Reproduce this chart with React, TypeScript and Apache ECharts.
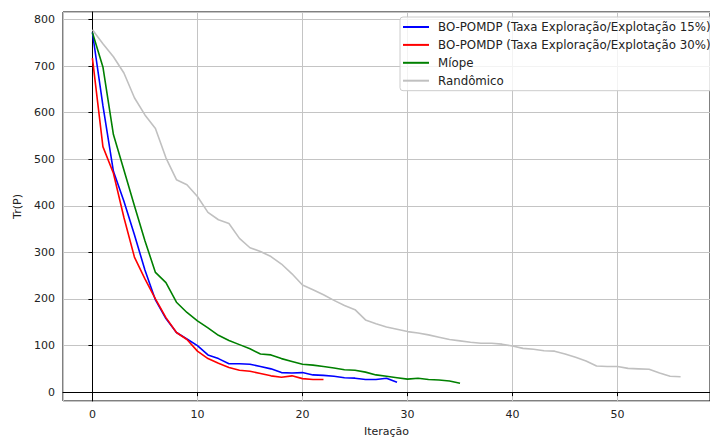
import React, { useEffect, useRef } from "react";
import * as echarts from "echarts";

const seriesNames = [
  "BO-POMDP (Taxa Exploração/Explotação 15%)",
  "BO-POMDP (Taxa Exploração/Explotação 30%)",
  "Míope",
  "Randômico",
];

const bo15 = [772, 615, 474, 410, 338, 262, 198, 158, 128, 114, 100, 80, 72, 61, 61, 60, 55, 50, 42, 41, 42, 37, 36, 34, 31, 30, 27, 27, 30, 21];
const bo30 = [717, 527, 470, 375, 290, 243, 200, 160, 128, 113, 88, 72, 62, 53, 47, 45, 40, 35, 32, 35, 29, 27, 27];
const miope = [772, 698, 553, 477, 400, 325, 257, 235, 193, 171, 153, 138, 122, 111, 102, 93, 82, 80, 72, 66, 60, 58, 55, 52, 48, 47, 43, 37, 34, 31, 28, 30, 27, 26, 24, 19];
const randomico = [778, 748, 720, 685, 632, 595, 566, 503, 456, 445, 420, 386, 370, 362, 330, 310, 302, 291, 275, 254, 230, 220, 209, 197, 186, 177, 155, 147, 140, 135, 130, 127, 123, 118, 113, 110, 107, 105, 105, 103, 99, 94, 92, 89, 88, 82, 75, 67, 56, 55, 55, 51, 50, 49, 41, 34, 33];

const colors = ["#0000ff", "#ff0000", "#008000", "#c0c0c0"];
const allSeries = [bo15, bo30, miope, randomico];

const FONT = "DejaVu Sans";
const TXT = "#222";

export default function App() {
  const ref = useRef<HTMLDivElement>(null);
  useEffect(() => {
    if (!ref.current) return;
    const chart = echarts.init(ref.current, undefined, { renderer: "svg" });
    chart.setOption({
      animation: false,
      textStyle: { fontFamily: FONT },
      grid: {
        left: 63,
        top: 12,
        width: 657,
        height: 391,
        show: true,
        borderColor: "#000",
        borderWidth: 1,
        backgroundColor: "transparent",
      },
      legend: {
        orient: "vertical",
        left: 400,
        top: 17,
        padding: [4, 6, 4, 2],
        itemWidth: 26,
        itemHeight: 14,
        itemGap: 5.9,
        backgroundColor: "rgba(255,255,255,0.8)",
        borderColor: "#cccccc",
        borderWidth: 1,
        borderRadius: 3,
        itemStyle: { opacity: 0 },
        textStyle: { fontFamily: FONT, fontSize: 11.8, color: TXT, padding: [0, 0, 0, 4] },
        data: seriesNames,
      },
      xAxis: {
        type: "value",
        min: -2.8,
        max: 58.8,
        splitNumber: 6,
        name: "Iteração",
        nameLocation: "middle",
        nameGap: 25,
        nameTextStyle: { fontFamily: FONT, fontSize: 11, color: TXT },
        axisLine: { show: true, lineStyle: { color: "#000", width: 1 } },
        axisTick: { show: true, length: 4, lineStyle: { color: "#000" } },
        axisLabel: { fontFamily: FONT, fontSize: 11, color: TXT, margin: 8, showMinLabel: false, showMaxLabel: false },
        splitLine: { show: true, lineStyle: { color: "#c4c4c4", width: 1 } },
      },
      yAxis: {
        type: "value",
        min: -19,
        max: 816,
        splitNumber: 8,
        name: "Tr(P)",
        nameLocation: "middle",
        nameGap: 35,
        nameTextStyle: { fontFamily: FONT, fontSize: 11, color: TXT },
        axisLine: { show: true, lineStyle: { color: "#000", width: 1 } },
        axisTick: { show: true, length: 4, lineStyle: { color: "#000" } },
        axisLabel: { fontFamily: FONT, fontSize: 11, color: TXT, margin: 8, showMinLabel: false, showMaxLabel: false },
        splitLine: { show: true, lineStyle: { color: "#c4c4c4", width: 1 } },
      },
      series: allSeries.map((arr, k) => ({
        name: seriesNames[k],
        type: "line",
        symbol: "none",
        showSymbol: false,
        data: arr.map((v, i) => [i, v]),
        lineStyle: { color: colors[k], width: 1.6 },
        itemStyle: { color: colors[k] },
      })),
    });
    return () => chart.dispose();
  }, []);
  return (
    <div
      ref={ref}
      style={{ position: "fixed", left: 0, top: 0, width: 710, height: 442, background: "#fff" }}
    />
  );
}
